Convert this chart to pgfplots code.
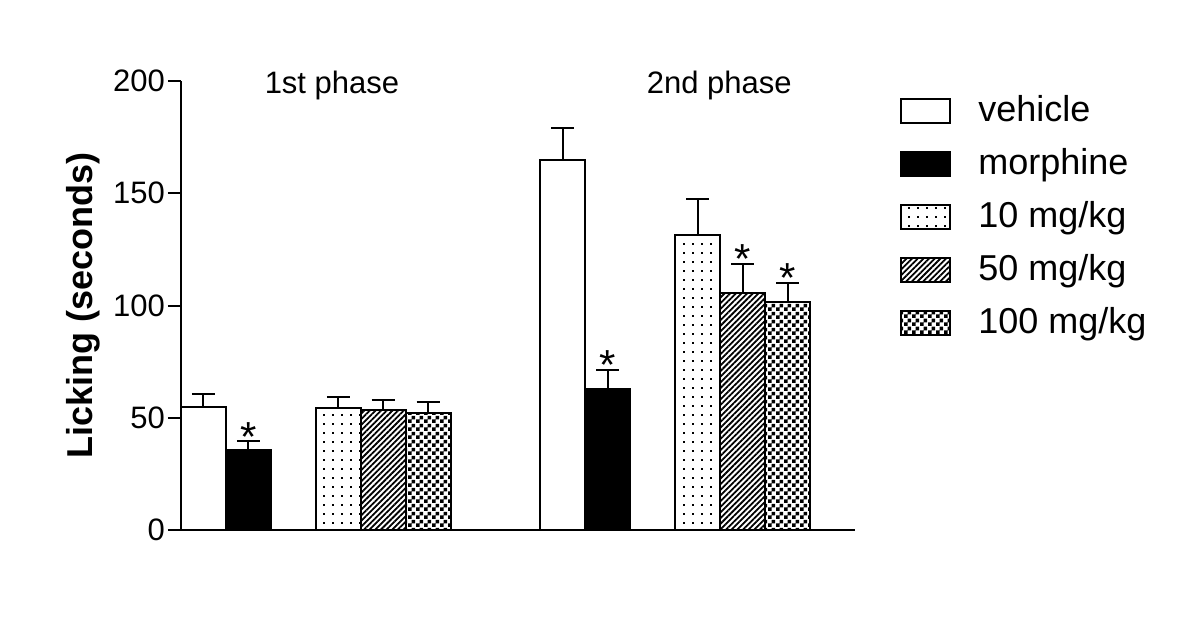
\documentclass[border=0pt]{standalone}
\usepackage{fontspec}
\setmainfont{Liberation Sans}
\usepackage{pgfplots}
\pgfplotsset{compat=1.18}
\usetikzlibrary{patterns,patterns.meta}

\pgfdeclarepatternformonly{sdots}{\pgfqpoint{-1pt}{-1pt}}{\pgfqpoint{1pt}{1pt}}{\pgfqpoint{4.5pt}{4.5pt}}{%
  \pgfpathrectangle{\pgfqpoint{-0.5pt}{-0.5pt}}{\pgfqpoint{1pt}{1pt}}\pgfusepath{fill}}
\pgfdeclarepatternformonly{checker}{\pgfpointorigin}{\pgfqpoint{4pt}{4pt}}{\pgfqpoint{4pt}{4pt}}{%
  \pgfpathrectangle{\pgfpointorigin}{\pgfqpoint{2pt}{2pt}}%
  \pgfpathrectangle{\pgfqpoint{2pt}{2pt}}{\pgfqpoint{2pt}{2pt}}\pgfusepath{fill}}

\begin{document}
\begin{tikzpicture}
\useasboundingbox (-90.5pt,-46pt) rectangle (509.5pt,265pt);
\begin{axis}[
  at={(0,0)}, anchor=south west,
  scale only axis, width=337pt, height=224.5pt,
  xmin=0, xmax=15, ymin=0, ymax=200,
  axis x line*=bottom, axis y line*=left,
  xtick=\empty,
  ytick={0,50,100,150,200},
  tick align=outside, major tick length=6.5pt,
  tick style={line width=1pt, black},
  axis line style={line width=1pt, black},
  yticklabel style={font=\fontsize{15.5}{18}\selectfont, xshift=2pt},
  /pgf/number format/assume math mode=true,
  ylabel={Licking (seconds)},
  ylabel style={font=\fontsize{18}{21}\selectfont\bfseries, at={(axis description cs:0,0.5)}, anchor=center, yshift=49pt},
  clip=false,
  error bars/y dir=plus, error bars/y explicit,
  error bars/error mark=-,
  error bars/error bar style={line width=1pt, black},
  error bars/error mark options={rotate=90, line width=1pt, black, mark size=5.75pt},
  legend cell align=left,
  legend style={draw=none, at={(axis description cs:1,1)}, anchor=north west,
    xshift=22.5pt, yshift=-7pt, inner xsep=0pt, inner ysep=0pt,
    font=\fontsize{18}{21}\selectfont,
    nodes={inner sep=0pt, text height=13pt, text depth=4pt},
    column sep=13.5pt, row sep=9.5pt},
  legend image code/.code={\draw[#1, line width=1pt] (0pt,-5.5pt) rectangle (24.5pt,6.5pt);},
  barstyle/.style={ybar, bar width=1, bar shift=0pt, draw=black, line width=1pt},
]
\addplot[barstyle, fill=white] coordinates {(0.5,54.9) +- (0,5.5) (8.5,164.8) +- (0,14.4)};
\addlegendentry{vehicle}
\addplot[barstyle, fill=black] coordinates {(1.5,35.6) +- (0,4.0) (9.5,62.7) +- (0,8.6)};
\addlegendentry{morphine}
\addplot[barstyle, pattern=sdots] coordinates {(3.5,54.2) +- (0,5.2) (11.5,131.4) +- (0,15.9)};
\addlegendentry{10 mg/kg}
\addplot[barstyle, pattern={Lines[angle=45,distance=2pt,line width=0.9pt]}] coordinates {(4.5,53.4) +- (0,4.4) (12.5,105.4) +- (0,13.1)};
\addlegendentry{50 mg/kg}
\addplot[barstyle, pattern=checker] coordinates {(5.5,52.1) +- (0,4.8) (13.5,101.7) +- (0,8.5)};
\addlegendentry{100 mg/kg}
\addplot[forget plot, draw=none, mark=none, error bars/y dir=none,
  nodes near coords={*},
  every node near coord/.append style={anchor=base, yshift=-5pt, inner sep=0pt, font=\fontsize{21}{24}\selectfont}]
  coordinates {(1.5,39.6) (9.5,71.3) (12.5,118.5) (13.5,110.2)};
\node[anchor=base, font=\fontsize{15.5}{18}\selectfont] at (axis cs:3.36,194.3) {1st phase};
\node[anchor=base, font=\fontsize{15.5}{18}\selectfont] at (axis cs:11.98,194.3) {2nd phase};
\end{axis}
\end{tikzpicture}
\end{document}
